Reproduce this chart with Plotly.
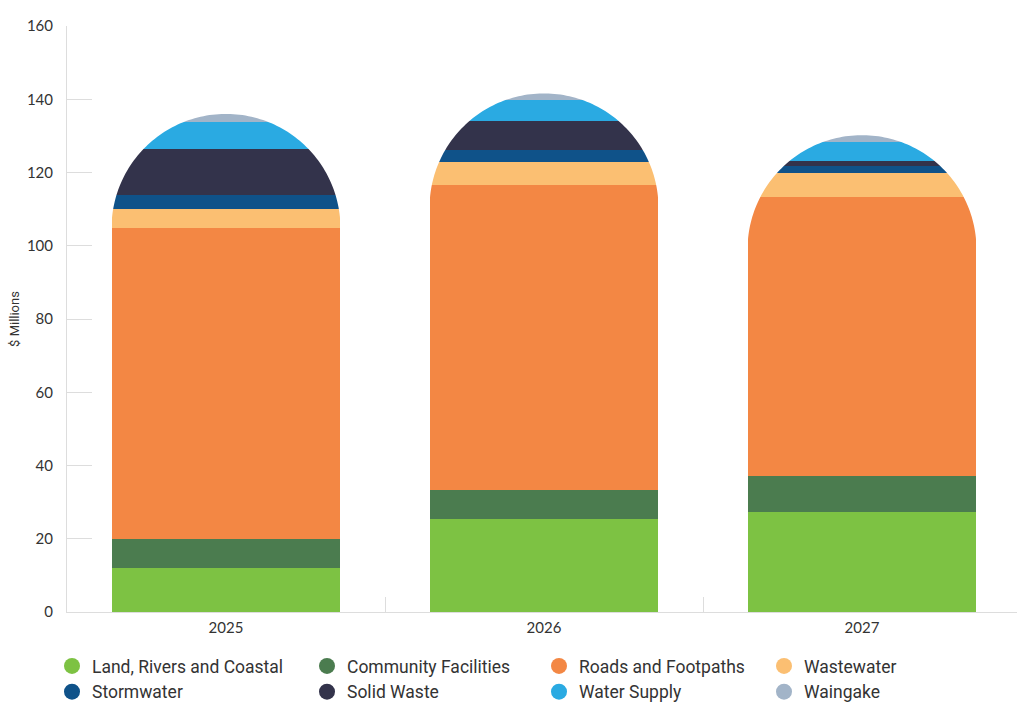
import numpy as np
import plotly.graph_objects as go

years = ["2025", "2026", "2027"]
series_names = ["Land, Rivers and Coastal", "Community Facilities", "Roads and Footpaths",
                "Wastewater", "Stormwater", "Solid Waste", "Water Supply", "Waingake"]
land = [12.0, 25.3, 27.3]
community = [7.9, 8.0, 9.9]
roads = [84.9, 83.3, 76.2]
wastewater = [5.2, 6.4, 6.4]
stormwater = [3.9, 3.1, 2.1]
solid_waste = [12.5, 8.0, 1.2]
water_supply = [7.5, 5.6, 5.1]
waingake = [2.1, 1.9, 2.0]
y_ticks = [0, 20, 40, 60, 80, 100, 120, 140, 160]

values = [land, community, roads, wastewater, stormwater, solid_waste, water_supply, waingake]
colors = ["#7DC243", "#4B7C4F", "#F38744", "#FBBF72", "#0F5289", "#33334B", "#2AAAE2", "#A2B4C8"]
legend_ids = ["legend", "legend2", "legend3", "legend4", "legend", "legend2", "legend3", "legend4"]

W, H = 1017, 704
ML, MR, MT, MB = 67, 0, 26, 92
plot_w = W - ML - MR
plot_h = H - MT - MB
cat_px = 318.0
x_range = [-0.5, -0.5 + plot_w / cat_px]
y_range = [0, 160]
bar_width = 0.72

fig = go.Figure()
for name, vals, col in zip(series_names, values, colors):
    fig.add_trace(go.Bar(x=years, y=vals, name=name, marker=dict(color=col, line=dict(width=0)),
                         width=bar_width, showlegend=False, hoverinfo="x+y+name"))

# legend entries with circular markers
for name, col, lg in zip(series_names, colors, legend_ids):
    fig.add_trace(go.Scatter(x=[None], y=[None], mode="markers", name=name, legend=lg,
                             marker=dict(symbol="circle", size=18, color=col), showlegend=True))

# rounded (semicircular in pixels) tops: white mask over the corners
px_per_x = plot_w / (x_range[1] - x_range[0])
px_per_y = plot_h / (y_range[1] - y_range[0])
rx = bar_width / 2
ry = rx * px_per_x / px_per_y
totals = np.sum(np.array(values), axis=0)
theta = np.linspace(0, np.pi, 120)
eps = 0.01
for i, tot in enumerate(totals):
    xc = i
    cy = tot - ry
    pts = [(xc - rx - eps, cy), (xc - rx - eps, tot + 2), (xc + rx + eps, tot + 2), (xc + rx + eps, cy)]
    pts += [(xc + rx * np.cos(t), cy + ry * np.sin(t)) for t in theta]
    path = "M " + " L ".join(f"{x:.5f},{y:.5f}" for x, y in pts) + " Z"
    fig.add_shape(type="path", path=path, xref="x", yref="y", fillcolor="white",
                  line=dict(width=0), layer="above")

legend_font = dict(family="Roboto", size=17.5, color="#333333")
legend_xs_px = [52, 307, 539, 764]
legend_top_px = 648
leg_y = (MT + plot_h - legend_top_px) / plot_h
legend_common = dict(orientation="v", yanchor="top", xanchor="left", y=leg_y, font=legend_font,
                     bgcolor="rgba(0,0,0,0)", itemsizing="trace", tracegroupgap=0,
                     traceorder="normal")
legs = {}
for k, lid in enumerate(["legend", "legend2", "legend3", "legend4"]):
    legs[lid] = dict(x=(legend_xs_px[k] - ML) / plot_w, **legend_common)

fig.update_layout(
    width=W, height=H,
    margin=dict(l=ML, r=MR, t=MT, b=MB, autoexpand=False),
    barmode="stack",
    plot_bgcolor="white", paper_bgcolor="white",
    font=dict(family="Lato", color="#333333"),
    xaxis=dict(type="category", range=x_range, showgrid=False, showline=True, linecolor="#DDDDDD",
               linewidth=1, ticks="inside", tickson="boundaries", ticklen=15, tickcolor="#DDDDDD",
               tickfont=dict(family="Lato", size=15, color="#333333"), zeroline=False,
               automargin=False, ticklabelstandoff=2),
    yaxis=dict(range=y_range, tickvals=y_ticks, showgrid=False, showline=True, linecolor="#DDDDDD",
               linewidth=1, ticks="inside", ticklen=25, tickcolor="#DDDDDD",
               tickfont=dict(family="Lato", size=15, color="#333333"), zeroline=False,
               automargin=False, ticklabelstandoff=10,
               title=dict(text="$ Millions", font=dict(family="Roboto", size=13, color="#333333"),
                          standoff=4)),
    showlegend=True,
    **legs,
)

fig.write_html("out.html", post_script="document.body.style.margin='0';",
               config={"displayModeBar": False})
